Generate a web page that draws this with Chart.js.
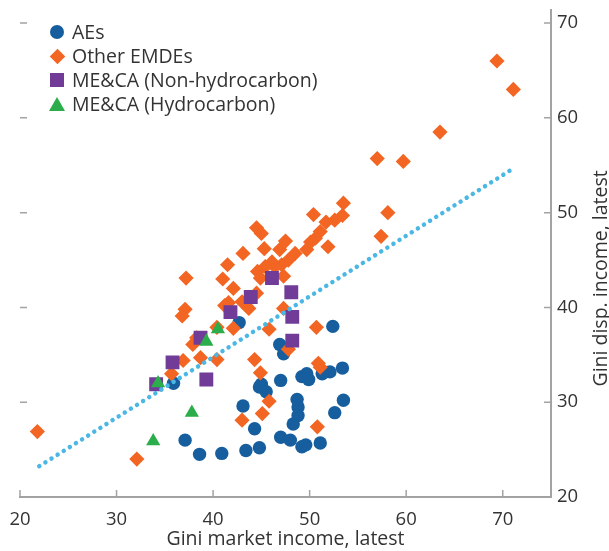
<!DOCTYPE html>
<html>
<head>
<meta charset="utf-8">
<script src="https://cdn.jsdelivr.net/npm/chart.js@4/dist/chart.umd.min.js"></script>
<style>
  body { margin: 0; background: #fff; }
  #wrap { position: relative; width: 609px; height: 551px; }
  #legend { position: absolute; left: 49px; top: 20px; font-family: "Open Sans", sans-serif; font-size: 19.5px; color: #333; }
  #legend div { height: 24px; line-height: 24px; display: flex; align-items: center; }
  #legend i { display: inline-block; width: 16px; height: 16px; margin-right: 7px; position: relative; }
</style>
</head>
<body>
<div id="wrap">
  <canvas id="chart" width="609" height="551"></canvas>
  <div id="legend"></div>
</div>
<script>
// series names, colours and point styles
const seriesNames = ["AEs", "Other EMDEs", "ME&CA (Non-hydrocarbon)", "ME&CA (Hydrocarbon)"];
const seriesColors = ["#175e9e", "#f26522", "#713c98", "#2aad4a"];
const fitColor = "#4bb7e5";

// [Gini market income, Gini disposable income]
const aes = [
  [52.4, 38.0], [46.9, 36.1], [47.3, 35.1], [53.4, 33.6], [52.1, 33.2], [51.3, 33.0],
  [49.9, 32.4], [49.2, 32.7], [49.7, 33.0], [47.0, 32.3], [45.0, 31.9], [44.8, 31.6],
  [45.5, 31.1], [48.7, 30.3], [48.8, 29.5], [48.8, 28.6], [48.3, 27.7], [53.5, 30.2],
  [52.6, 28.9], [47.0, 26.3], [48.0, 26.0], [49.2, 25.3], [49.6, 25.5], [51.1, 25.7],
  [44.8, 25.2], [44.3, 27.2], [42.7, 38.4], [35.9, 32.0], [43.1, 29.6], [37.1, 26.0],
  [38.6, 24.5], [40.9, 24.6], [43.4, 24.9]
];
const otherEmdes = [
  [21.8, 26.9], [32.1, 24.0], [69.4, 66.0], [71.1, 63.0], [63.5, 58.5], [57.0, 55.7],
  [59.7, 55.4], [53.5, 51.0], [58.1, 50.0], [57.4, 47.5], [53.4, 49.7], [52.6, 49.2],
  [51.7, 49.0], [50.4, 49.8], [51.1, 48.0], [51.9, 46.4], [50.6, 47.3], [50.1, 46.9],
  [49.7, 46.1], [48.5, 45.7], [47.5, 47.0], [46.9, 46.1], [47.8, 45.0], [47.1, 44.5],
  [46.4, 44.3], [46.1, 44.8], [45.4, 44.3], [45.3, 46.2], [44.5, 48.4], [45.0, 47.8],
  [44.6, 43.8], [44.9, 43.1], [47.3, 43.3], [44.5, 41.5], [47.3, 39.9], [43.1, 45.7],
  [41.5, 44.5], [37.2, 43.1], [41.0, 43.0], [42.1, 42.0], [41.6, 40.5], [43.0, 40.6],
  [37.1, 39.8], [36.8, 39.1], [41.2, 40.2], [43.7, 39.9], [40.4, 37.9], [42.1, 37.8],
  [37.9, 36.1], [38.3, 36.8], [38.7, 34.7], [40.4, 34.5], [36.9, 34.4], [35.7, 33.0],
  [44.3, 34.5], [44.9, 33.1], [43.0, 28.1], [50.7, 37.9], [45.8, 37.7], [47.8, 35.6],
  [51.1, 33.7], [50.9, 34.1], [45.8, 30.1], [45.1, 28.8], [50.8, 27.4]
];
const mecaNonHydro = [
  [46.1, 43.1], [43.9, 41.1], [48.1, 41.6], [41.8, 39.5], [48.2, 39.0], [48.2, 36.5],
  [38.7, 36.8], [35.8, 34.2], [39.3, 32.4], [34.1, 31.9]
];
const mecaHydro = [
  [40.5, 37.7], [39.3, 36.4], [34.3, 32.0], [37.8, 28.9], [33.8, 25.9]
];
// fitted line, end points
const fitX = [22, 71];
const fitY = [23.25, 54.6];

const xTicks = [20, 30, 40, 50, 60, 70];
const yTicks = [20, 30, 40, 50, 60, 70];

const axisGrey = "#a3a3a3";
const textColor = "#333333";
const fontFamily = "'Open Sans', sans-serif";

const toPoints = arr => arr.map(p => ({ x: p[0], y: p[1] }));

const pointStyles = ["circle", "rectRot", "rect", "triangle"];
const pointRadii = [6.7, 7.6, 9.8, 8.2];
const seriesData = [aes, otherEmdes, mecaNonHydro, mecaHydro];

const scatterSets = seriesData.map((d, i) => ({
  type: "scatter",
  label: seriesNames[i],
  data: toPoints(d),
  pointStyle: pointStyles[i],
  pointRadius: pointRadii[i],
  pointHoverRadius: pointRadii[i],
  backgroundColor: seriesColors[i],
  borderWidth: 0,
  order: 4 - i
}));

const fitSet = {
  type: "line",
  label: "fit",
  data: fitX.map((x, i) => ({ x: x, y: fitY[i] })),
  borderColor: fitColor,
  borderWidth: 4.5,
  borderDash: [0.01, 7.2],
  borderCapStyle: "round",
  pointRadius: 0,
  fill: false,
  order: 0
};

// ticks drawn inward, and the right title read from bottom to top
const insideTicks = {
  id: "insideTicks",
  afterDraw(chart) {
    const { ctx, chartArea: a, scales: { x, y } } = chart;
    ctx.save();
    ctx.strokeStyle = axisGrey;
    ctx.lineWidth = 1.5;
    ctx.beginPath();
    x.ticks.forEach(t => {
      const px = x.getPixelForValue(t.value);
      ctx.moveTo(px, a.bottom);
      ctx.lineTo(px, a.bottom - 7);
    });
    y.ticks.forEach(t => {
      const py = y.getPixelForValue(t.value);
      ctx.moveTo(a.right, py);
      ctx.lineTo(a.right - 7, py);
      ctx.moveTo(a.left, py);
      ctx.lineTo(a.left + 7, py);
    });
    ctx.stroke();
    ctx.fillStyle = textColor;
    ctx.font = "19.5px " + fontFamily;
    ctx.textAlign = "center";
    ctx.textBaseline = "middle";
    ctx.translate(a.right + 50, (a.top + a.bottom) / 2 + 25);
    ctx.rotate(-Math.PI / 2);
    ctx.fillText("Gini disp. income, latest", 0, 0);
    ctx.restore();
  }
};

const noPad = s => { s.paddingTop = 0; s.paddingBottom = 0; s.paddingLeft = 0; s.paddingRight = 0; };

new Chart(document.getElementById("chart").getContext("2d"), {
  data: { datasets: [fitSet].concat(scatterSets) },
  options: {
    responsive: false,
    animation: false,
    layout: { padding: { left: 20, top: 8, right: 0, bottom: 0 } },
    plugins: { legend: { display: false }, tooltip: { enabled: false } },
    scales: {
      x: {
        type: "linear",
        position: "bottom",
        min: 20,
        max: 75,
        afterBuildTicks: s => { s.ticks = xTicks.map(v => ({ value: v })); },
        afterFit: s => { s.height = 54; noPad(s); },
        ticks: { color: textColor, font: { family: fontFamily, size: 18.5 }, padding: 12 },
        grid: { drawOnChartArea: false, drawTicks: false },
        border: { color: axisGrey, width: 2 },
        title: {
          display: true,
          text: "Gini market income, latest",
          color: textColor,
          font: { family: fontFamily, size: 19.5 },
          padding: { top: 0, bottom: 0 }
        }
      },
      y: {
        type: "linear",
        position: "right",
        min: 20,
        max: 71.4,
        afterBuildTicks: s => { s.ticks = yTicks.map(v => ({ value: v })); },
        afterFit: s => { s.width = 58; noPad(s); },
        ticks: { color: textColor, font: { family: fontFamily, size: 18.5 }, padding: 6 },
        grid: { drawOnChartArea: false, drawTicks: false },
        border: { color: axisGrey, width: 2 }
      }
    }
  },
  plugins: [insideTicks]
});

// legend
const shapeCss = [
  "width:14px;height:14px;border-radius:50%;background:" + seriesColors[0],
  "width:11px;height:11px;transform:rotate(45deg);background:" + seriesColors[1],
  "width:14px;height:14px;background:" + seriesColors[2],
  "width:0;height:0;border-left:8px solid transparent;border-right:8px solid transparent;border-bottom:14px solid " + seriesColors[3]
];
const legendEl = document.getElementById("legend");
seriesNames.forEach((name, i) => {
  const row = document.createElement("div");
  const box = document.createElement("i");
  box.style.cssText = "display:flex;align-items:center;justify-content:center;";
  const mark = document.createElement("span");
  mark.style.cssText = "display:block;" + shapeCss[i];
  box.appendChild(mark);
  row.appendChild(box);
  row.appendChild(document.createTextNode(name));
  legendEl.appendChild(row);
});
</script>
</body>
</html>
